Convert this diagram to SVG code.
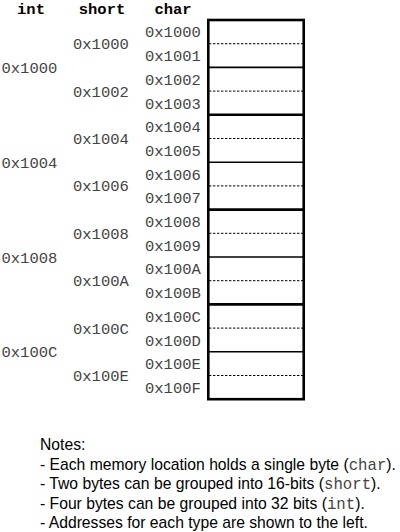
<svg xmlns="http://www.w3.org/2000/svg" width="400" height="532" viewBox="0 0 400 532">
<style>
.hdr{font-family:"Liberation Mono","DejaVu Sans Mono",monospace;font-size:15.5px;font-weight:bold;fill:#000;text-anchor:middle}
.addr{font-family:"Liberation Mono","DejaVu Sans Mono",monospace;font-size:15.5px;fill:#444}
.note{font-family:"Liberation Sans",Arial,sans-serif;font-size:15.7px;fill:#000}
.mono{font-family:"Liberation Mono","DejaVu Sans Mono",monospace;fill:#444}
.thick{stroke:#000;stroke-width:2.6;fill:none}
.mid{stroke:#000;stroke-width:1.6;fill:none}
.dash{stroke:#000;stroke-width:1;stroke-dasharray:2.4,1.6;fill:none}
</style>
<rect width="400" height="532" fill="#fff"/>
<g id="headers">
<text class="hdr" x="31" y="14">int</text>
<text class="hdr" x="102" y="14">short</text>
<text class="hdr" x="173" y="14">char</text>
</g>
<g id="memory">
<line class="dash" x1="209" y1="43.7" x2="303" y2="43.7"/>
<line class="dash" x1="209" y1="91.1" x2="303" y2="91.1"/>
<line class="dash" x1="209" y1="138.5" x2="303" y2="138.5"/>
<line class="dash" x1="209" y1="185.9" x2="303" y2="185.9"/>
<line class="dash" x1="209" y1="233.3" x2="303" y2="233.3"/>
<line class="dash" x1="209" y1="280.7" x2="303" y2="280.7"/>
<line class="dash" x1="209" y1="328.1" x2="303" y2="328.1"/>
<line class="dash" x1="209" y1="375.5" x2="303" y2="375.5"/>
<line class="mid" x1="208" y1="67.4" x2="304" y2="67.4"/>
<line class="mid" x1="208" y1="162.2" x2="304" y2="162.2"/>
<line class="mid" x1="208" y1="257" x2="304" y2="257"/>
<line class="mid" x1="208" y1="351.8" x2="304" y2="351.8"/>
<line class="thick" x1="208" y1="114.8" x2="304" y2="114.8"/>
<line class="thick" x1="208" y1="209.6" x2="304" y2="209.6"/>
<line class="thick" x1="208" y1="304.4" x2="304" y2="304.4"/>
<rect class="thick" x="208.3" y="20" width="95.4" height="379.2"/>
</g>
<g id="char-addresses">
<text class="addr" x="145" y="37.4">0x1000</text>
<text class="addr" x="145" y="61.1">0x1001</text>
<text class="addr" x="145" y="84.8">0x1002</text>
<text class="addr" x="145" y="108.5">0x1003</text>
<text class="addr" x="145" y="132.2">0x1004</text>
<text class="addr" x="145" y="155.9">0x1005</text>
<text class="addr" x="145" y="179.6">0x1006</text>
<text class="addr" x="145" y="203.3">0x1007</text>
<text class="addr" x="145" y="227">0x1008</text>
<text class="addr" x="145" y="250.7">0x1009</text>
<text class="addr" x="145" y="274.4">0x100A</text>
<text class="addr" x="145" y="298.1">0x100B</text>
<text class="addr" x="145" y="321.8">0x100C</text>
<text class="addr" x="145" y="345.5">0x100D</text>
<text class="addr" x="145" y="369.2">0x100E</text>
<text class="addr" x="145" y="392.9">0x100F</text>
</g>
<g id="short-addresses">
<text class="addr" x="73" y="49.2">0x1000</text>
<text class="addr" x="73" y="96.6">0x1002</text>
<text class="addr" x="73" y="144">0x1004</text>
<text class="addr" x="73" y="191.4">0x1006</text>
<text class="addr" x="73" y="238.8">0x1008</text>
<text class="addr" x="73" y="286.2">0x100A</text>
<text class="addr" x="73" y="333.6">0x100C</text>
<text class="addr" x="73" y="381">0x100E</text>
</g>
<g id="int-addresses">
<text class="addr" x="1.5" y="72.9">0x1000</text>
<text class="addr" x="1.5" y="167.7">0x1004</text>
<text class="addr" x="1.5" y="262.5">0x1008</text>
<text class="addr" x="1.5" y="357.3">0x100C</text>
</g>
<g id="notes">
<text class="note" x="40" y="450">Notes:</text>
<text class="note" x="40" y="469.5">- Each memory location holds a single byte (<tspan class="mono">char</tspan>).</text>
<text class="note" x="40" y="489">- Two bytes can be grouped into 16-bits (<tspan class="mono">short</tspan>).</text>
<text class="note" x="40" y="508.5">- Four bytes can be grouped into 32 bits (<tspan class="mono">int</tspan>).</text>
<text class="note" x="40" y="528">- Addresses for each type are shown to the left.</text>
</g>
</svg>
